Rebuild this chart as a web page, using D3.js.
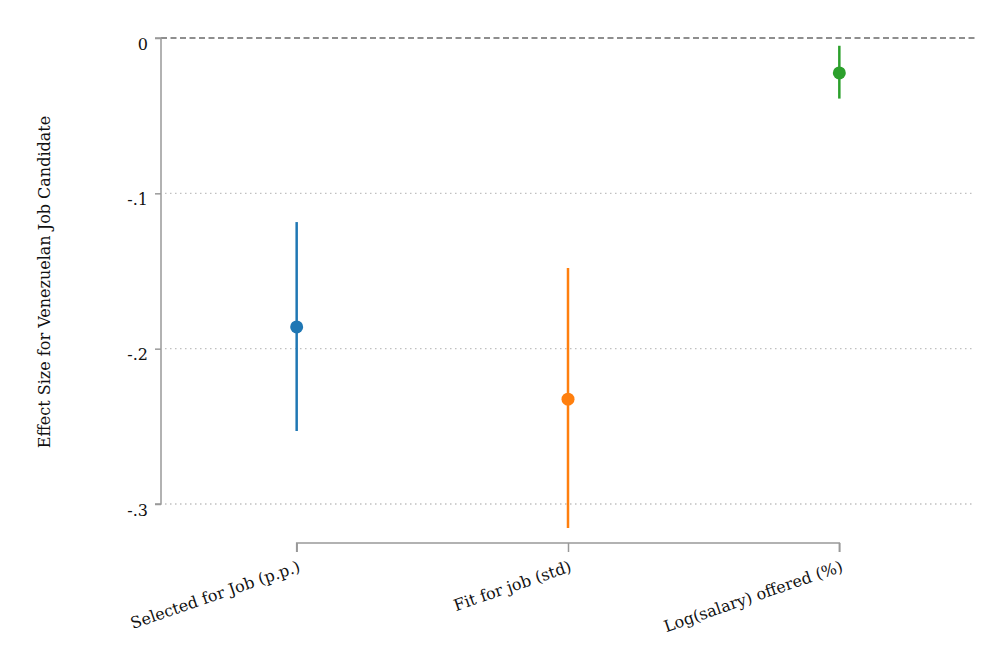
<!DOCTYPE html>
<html><head><meta charset="utf-8">
<script src="https://cdn.jsdelivr.net/npm/d3@7"></script>
<style>body{margin:0;background:#fff}</style>
</head><body>
<svg id="c" width="1000" height="667"></svg>
<script>
const categories = ["Selected for Job (p.p.)", "Fit for job (std)", "Log(salary) offered (%)"];
const estimates = [-0.186, -0.2325, -0.0225];
const ciLow = [-0.253, -0.3155, -0.039];
const ciHigh = [-0.1185, -0.148, -0.005];
const colors = ["#1f77b4", "#ff7f0e", "#2ca02c"];
const yTicks = [0, -0.1, -0.2, -0.3];
const yTickLabels = ["0", "-.1", "-.2", "-.3"];
const yTitle = "Effect Size for Venezuelan Job Candidate";

(function () {
const font = "'DejaVu Serif', 'Liberation Serif', serif";
const svg = d3.select("#c");
const pLeft = 161, pRight = 975, pTop = 38, pBottom = 504;
const y = d3.scaleLinear().domain([0, -0.3]).range([pTop, pBottom]);
const x = d3.scalePoint().domain(categories).range([pLeft, pRight]).padding(0.5);

// gridlines
svg.append("g").selectAll("line").data(yTicks.filter(d => d !== 0)).join("line")
  .attr("x1", pLeft + 4).attr("x2", pRight).attr("y1", d => y(d)).attr("y2", d => y(d))
  .attr("stroke", "#c0c0c0").attr("stroke-width", 1.3).attr("stroke-dasharray", "1.5,3.5");
// zero line
svg.append("line").attr("x1", pLeft).attr("x2", pRight).attr("y1", y(0)).attr("y2", y(0))
  .attr("stroke", "#6a6a6a").attr("stroke-width", 1.3).attr("stroke-dasharray", "6,3.5");

// y axis
const yAxis = d3.axisLeft(y).tickValues(yTicks).tickFormat((d, i) => yTickLabels[i]).tickSize(6).tickPadding(7);
const gy = svg.append("g").attr("transform", `translate(${pLeft},0)`).call(yAxis);
gy.select(".domain").attr("stroke", "#999").attr("stroke-width", 1.5).attr("d", `M-6,${pTop}H0V${pBottom}H-6`);
gy.selectAll(".tick line").attr("stroke", "#999").attr("stroke-width", 1.5);
gy.selectAll(".tick text").attr("font-family", font).attr("font-size", 16).attr("fill", "#111")
  .attr("dy", "0.7em");

// x axis
const xAxis = d3.axisBottom(x).tickSize(9).tickPadding(6);
const gx = svg.append("g").attr("transform", `translate(0,543)`).call(xAxis);
gx.select(".domain").attr("stroke", "#999").attr("stroke-width", 1.5)
  .attr("d", `M${x(categories[0])},9V0H${x(categories[2])}V9`);
gx.selectAll(".tick line").attr("stroke", "#999").attr("stroke-width", 1.5);
gx.selectAll(".tick text").attr("font-family", font).attr("font-size", 16).attr("fill", "#111")
  .attr("text-anchor", "end").attr("dy", null).attr("y", 0)
  .attr("transform", "translate(4,28) rotate(-19)");

// CI lines
svg.append("g").selectAll("line").data(categories).join("line")
  .attr("x1", d => x(d)).attr("x2", d => x(d))
  .attr("y1", (d, i) => y(ciHigh[i])).attr("y2", (d, i) => y(ciLow[i]))
  .attr("stroke", (d, i) => colors[i]).attr("stroke-width", 2.5);
// points
svg.append("g").selectAll("circle").data(categories).join("circle")
  .attr("cx", d => x(d)).attr("cy", (d, i) => y(estimates[i])).attr("r", 6.5)
  .attr("fill", (d, i) => colors[i]);

// y title
svg.append("text").attr("transform", `translate(50,282) rotate(-90)`)
  .attr("text-anchor", "middle").attr("font-family", font).attr("font-size", 16).attr("fill", "#111")
  .text(yTitle);
})();
</script>
</body></html>
